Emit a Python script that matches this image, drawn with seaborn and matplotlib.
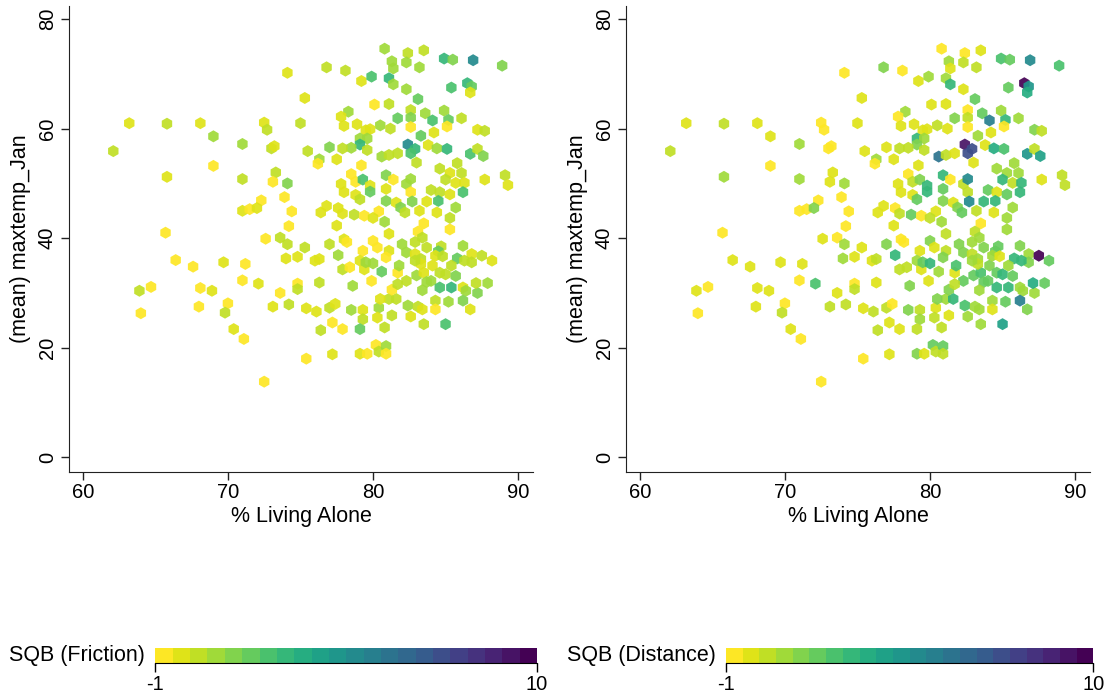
import numpy as np
import pandas as pd
import matplotlib
matplotlib.use("Agg")
import matplotlib.pyplot as plt
from matplotlib.colors import ListedColormap, BoundaryNorm
from matplotlib.cm import ScalarMappable
import seaborn as sns

# ------------------------------
# DATA
# ------------------------------
living_alone = [
    # west / low share
    74.1, 75.3, 63.2, 65.8, 68.1, 72.5, 72.7, 75.0, 69.0, 71.0,
    62.1, 73.0, 73.2, 75.5, 69.0, 65.8, 71.0, 73.3, 73.1, 74.1,
    73.9, 72.3, 71.0, 71.5, 72.0, 74.4, 74.2, 65.7,
    72.6, 73.6, 74.1, 75.3, 66.4, 67.6, 69.7, 71.2, 74.0, 74.8,
    71.0, 72.1, 74.8, 74.8, 73.6, 63.9, 64.7, 68.1, 68.9, 68.0,
    70.0, 69.8, 64.0, 73.1, 74.2, 75.4, 70.4, 71.1, 75.4, 72.5,
    # upper cluster
    80.8, 82.4, 83.5, 84.9, 85.5, 86.9, 88.9, 81.3, 82.3, 81.4,
    83.2, 76.8, 78.1, 79.2, 79.9, 81.1, 81.4, 86.5, 86.8, 86.7,
    85.4, 82.3, 83.1, 80.1, 81.1, 82.6, 78.3, 77.8, 83.6, 84.9,
    81.7, 82.6, 84.1, 85.2, 86.1, 78.0, 78.9, 80.5, 81.2, 82.6,
    85.1, 87.2, 87.7, 79.5, 79.8, 79.1, 79.6, 79.1, 78.5, 79.6,
    83.3, 84.2, 82.4, 82.9, 82.6, 83.8, 84.4, 85.1, 86.7, 87.2,
    87.6, 77.0, 77.9, 76.3, 77.5, 76.2, 79.2, 80.6, 81.1, 81.7,
    83.0, 84.6, 85.8, 89.1, 89.3, 87.7, 86.1, 85.3, 85.0, 85.7,
    86.3, 78.5, 78.8, 77.8, 79.3, 79.8, 80.9, 81.4, 82.3, 82.6,
    78.0, 78.8, 79.1, 79.8, 80.9, 82.6, 84.0, 84.6, 85.3, 86.2,
    84.5, 83.7, 85.7, 80.9, 81.6, 81.9, 82.7, 83.2, 84.4, 82.2,
    76.4, 76.8, 77.6, 77.9, 78.7, 79.4, 80.4, 80.0, 80.8, 77.5,
    83.5, 85.3,
    # lower cluster
    85.3, 81.1, 83.1, 83.4, 82.9, 77.0, 78.0, 78.2, 79.3, 80.0,
    80.3, 81.1, 82.0, 82.3, 82.9, 83.7, 84.7, 84.5, 86.2, 85.8,
    86.8, 87.5, 88.2, 86.8, 86.3, 76.0, 76.3, 76.1, 77.0, 77.4,
    76.4, 77.2, 77.9, 77.2, 78.5, 79.3, 79.3, 79.1, 77.6, 77.9,
    78.4, 78.6, 76.3, 79.1, 79.4, 79.9, 79.5, 80.0, 80.6, 80.9,
    81.7, 81.8, 82.3, 83.0, 83.5, 83.7, 84.1, 84.0, 83.4, 84.6,
    85.0, 85.7, 85.4, 84.6, 85.4, 86.2, 86.4, 87.2, 87.1, 87.9,
    86.2, 86.7, 85.2, 84.3, 84.3, 85.0, 83.5, 82.6, 82.4, 83.1,
    83.4, 81.3, 80.4, 80.3, 80.8, 81.1, 81.6, 80.5, 81.3, 81.7,
    83.3, 83.3, 82.9, 84.3, 84.8, 79.1, 79.6, 80.2, 80.4, 80.9,
    80.9,
]

maxtemp_jan = [
    70.2, 65.6, 61.0, 60.9, 61.0, 61.1, 59.8, 61.0, 58.6, 57.2,
    55.9, 56.4, 56.8, 55.9, 53.2, 51.2, 50.8, 52.0, 50.3, 50.0,
    47.5, 46.9, 45.0, 45.3, 45.5, 44.9, 42.2, 41.0,
    39.9, 40.1, 38.9, 38.3, 36.0, 34.8, 35.6, 35.3, 36.3, 36.6,
    32.3, 31.7, 31.7, 30.7, 30.0, 30.4, 31.1, 30.9, 30.4, 27.5,
    28.1, 26.4, 26.3, 27.5, 27.9, 27.2, 23.4, 21.6, 18.0, 13.8,
    74.6, 73.8, 74.3, 72.8, 72.6, 72.5, 71.5, 72.3, 72.1, 71.0,
    71.2, 71.2, 70.6, 68.7, 69.5, 69.2, 68.1, 68.3, 67.7, 66.6,
    67.5, 67.2, 65.4, 64.4, 64.5, 63.4, 63.1, 62.2, 62.8, 63.3,
    61.9, 62.0, 61.5, 61.6, 61.9, 60.5, 60.8, 60.6, 60.0, 60.3,
    60.4, 59.8, 59.6, 59.7, 59.9, 58.2, 58.2, 57.1, 56.5, 56.1,
    58.7, 59.3, 57.1, 56.3, 55.5, 57.0, 56.4, 56.3, 55.4, 56.3,
    55.0, 56.6, 56.4, 54.4, 54.4, 53.6, 53.3, 54.9, 55.2, 55.5,
    53.8, 52.7, 53.7, 51.5, 49.7, 50.7, 51.9, 51.9, 50.7, 50.1,
    50.1, 51.7, 50.3, 49.9, 50.7, 49.6, 51.5, 50.7, 49.9, 50.8,
    48.4, 47.9, 47.1, 48.5, 49.0, 48.4, 48.8, 48.4, 48.0, 48.4,
    46.8, 46.7, 45.6, 46.8, 46.5, 45.6, 46.7, 45.0, 44.7, 44.7,
    44.7, 45.9, 45.5, 44.5, 44.3, 44.1, 44.9, 43.7, 43.0, 42.3,
    42.7, 43.7,
    41.6, 40.8, 41.2, 40.1, 39.3, 38.9, 39.8, 39.3, 37.7, 39.5,
    38.3, 37.7, 38.9, 37.4, 37.1, 38.3, 38.5, 37.6, 38.6, 36.3,
    37.1, 36.8, 35.9, 35.6, 35.9, 35.9, 36.2, 26.6, 27.3, 28.0,
    23.2, 24.6, 23.4, 18.8, 26.9, 26.9, 25.2, 23.4, 36.9, 34.3,
    34.7, 31.3, 31.9, 35.9, 34.3, 32.2, 35.6, 35.4, 33.9, 36.5,
    33.7, 35.0, 32.2, 33.2, 33.7, 32.0, 35.0, 32.2, 30.5, 33.7,
    33.4, 33.1, 35.0, 31.0, 31.0, 31.0, 30.4, 30.0, 31.8, 31.8,
    28.6, 27.0, 28.4, 28.6, 27.0, 24.3, 24.3, 25.7, 27.7, 27.5,
    27.0, 25.9, 27.3, 25.5, 23.7, 28.9, 28.9, 28.9, 30.6, 31.6,
    36.2, 35.3, 35.9, 36.8, 36.7, 18.9, 18.9, 20.5, 19.3, 20.3,
    18.9,
]

sqb_friction = [
    -0.3, -0.3, -0.3, 0.2, -0.3, -0.3, 0.2, 0.2, 0.8, 0.8,
    0.2, 0.2, -0.3, 0.2, -0.8, -0.3, 0.2, 0.2, -0.8, 1.2,
    -0.8, -0.8, -0.3, -0.8, -0.3, -0.8, -0.8, -0.8,
    -0.8, 0.2, 0.2, 0.2, -0.8, -0.8, -0.3, -0.8, -0.3, -0.3,
    -0.8, -0.3, -0.8, 0.2, -0.8, 0.2, -0.8, -0.8, -0.3, -0.8,
    -0.8, 0.2, -0.8, -0.3, 0.4, -0.3, -0.3, -0.8, -0.8, -0.8,
    0.7, 0.2, 0.2, 2.7, 1.2, 4.8, 1.2, 0.8, 0.6, 0.6,
    0.8, 0.2, 0.2, -0.3, 2.2, 2.7, 0.6, 2.7, 1.7, -0.3,
    2.2, 0.8, 1.7, -0.8, 0.4, 0.2, 0.8, -0.3, 0.8, 0.7,
    1.7, 1.0, 2.2, 1.7, 0.4, -0.3, -0.3, 0.8, 0.2, -0.8,
    -0.8, -0.3, 0.0, -0.3, -0.3, 0.8, 0.8, 2.7, 0.6, 0.4,
    1.7, -0.3, 4.8, 2.7, 2.2, -0.3, 0.8, 2.7, 2.2, 0.2,
    1.0, 1.0, 0.0, 0.8, -0.1, -0.8, -0.8, 0.8, 0.2, 0.3,
    0.2, 0.4, 0.0, 0.3, -0.3, -0.3, 0.4, -0.3, 0.3, -0.3,
    -0.3, -0.8, -0.8, -0.3, 2.2, -0.3, 1.0, -0.8, 0.5, 0.8,
    -0.3, -0.3, 0.3, 1.7, -0.3, -0.8, 0.3, 0.3, -0.3, 2.3,
    2.3, -0.3, 0.8, 1.0, -0.3, 1.0, 1.0, -0.3, -0.3, 0.3,
    -0.3, -0.3, -0.3, -0.3, 0.3, -0.8, -0.8, -0.3, 0.8, -0.3,
    -0.8, 0.3,
    -0.8, -0.3, -0.8, 0.3, 0.3, 0.3, -0.3, -0.8, -0.8, -0.8,
    -0.8, -0.3, 0.8, 0.8, -0.3, 0.3, 0.3, 1.8, 0.8, 1.5,
    -0.3, 0.3, -0.3, 0.3, 0.3, -0.3, -0.3, -0.3, 0.3, -0.3,
    0.2, -0.8, -0.8, -0.3, 0.8, -0.3, 0.3, 1.5, 0.8, 0.3,
    -0.8, 0.8, 0.3, -0.3, -0.3, -0.8, 0.8, 0.8, 1.5, -0.8,
    -0.8, 0.8, 0.3, 0.8, -0.3, 0.8, -0.3, 0.8, 0.8, 0.3,
    0.3, 1.3, 0.3, 2.2, 2.6, -0.3, 0.8, 1.3, 0.3, 0.8,
    1.3, -0.3, 0.8, 0.3, -0.8, 2.2, 0.3, -0.3, 0.8, 0.3,
    -0.3, 0.3, 0.8, -0.3, 0.3, 0.3, 0.3, -0.3, -0.8, 0.3,
    0.3, -0.3, 0.3, -0.3, 0.3, -0.3, -0.8, -0.8, 0.3, 0.8,
    -0.8,
]

sqb_distance = [
    -0.8, -0.3, -0.3, 0.2, -0.3, -0.8, -0.8, -0.3, -0.3, 0.8,
    0.2, -0.8, -0.8, -0.3, -0.8, 0.8, 0.8, -0.3, -0.3, 0.8,
    -0.8, -0.8, -0.8, -0.8, 1.2, -0.8, -0.8, -0.8,
    -0.3, -0.8, 0.8, -0.3, -0.3, -0.3, -0.3, -0.3, 0.8, -0.3,
    -0.8, 2.2, -0.8, 0.2, -0.3, -0.3, -0.8, -0.3, -0.3, -0.3,
    -0.8, 0.2, -0.8, 0.2, 0.2, -0.3, -0.3, -0.8, -0.8, -0.8,
    -0.8, -0.8, -0.3, 2.2, 1.7, 4.8, 2.2, 0.8, 0.2, -0.3,
    0.2, 1.2, -0.8, -0.3, 0.8, 0.8, 2.7, 9.8, 4.2, 3.0,
    1.7, -0.3, 1.7, -0.3, -0.3, -0.8, 0.8, -0.8, 1.7, 0.8,
    1.2, 0.4, 5.0, 2.7, 0.8, -0.3, -0.3, 0.2, -0.3, -0.8,
    -0.8, 1.0, 0.4, -0.3, -0.3, 2.8, 0.8, 1.0, 0.2, 0.4,
    0.8, -0.3, 9.0, 7.0, 7.0, -0.3, 3.0, 2.2, 4.2, 0.3,
    3.5, -0.3, 0.3, 0.8, -0.3, -0.8, -0.3, 5.5, 0.2, -0.3,
    -0.3, 0.8, 0.8, 0.3, 0.3, -0.3, 0.8, 0.8, 2.7, 0.0,
    2.5, -0.8, 0.2, -0.3, 1.0, 2.5, 2.8, -0.8, 0.3, 4.5,
    -0.3, -0.3, 1.5, 2.5, 1.5, 0.3, 1.5, -0.3, 1.5, 2.5,
    2.5, 2.5, 0.5, 1.0, -0.3, 1.0, 4.5, 0.3, -0.3, 1.5,
    -0.3, -0.3, -0.8, 0.2, 1.5, -0.8, -0.3, 0.3, 0.8, -0.3,
    -0.8, 0.8,
    0.8, 0.4, 0.3, 0.8, 0.8, 1.2, -0.8, -0.8, -0.3, 1.2,
    -0.3, 0.3, 1.2, 1.0, 0.3, 1.0, 1.5, 1.8, 1.2, 2.5,
    0.5, 9.5, 1.8, 1.2, 2.5, -0.3, 0.2, 0.2, 0.3, -0.8,
    0.3, -0.3, -0.3, -0.3, 1.0, 0.3, 0.8, 0.3, 2.8, 0.3,
    0.3, 1.3, -0.3, 0.8, -0.3, -0.3, 1.5, 2.8, 0.8, 1.0,
    -0.3, 2.0, 1.5, 1.5, 2.0, 1.5, 1.3, 1.5, 0.8, 1.8,
    2.7, 1.5, 0.8, 2.8, 2.8, 0.5, 0.8, 0.5, 3.0, 1.5,
    5.0, 1.0, 1.8, 0.5, -0.3, 3.8, 0.8, 0.8, 2.0, 0.8,
    0.8, -0.3, -0.3, 0.3, 0.3, 0.8, 2.5, 1.3, 1.3, 0.3,
    0.8, 0.3, 0.8, 0.8, -0.3, 1.3, -0.3, 1.5, 0.3, 1.5,
    0.3,
]

df = pd.DataFrame({
    "living_alone": living_alone,
    "maxtemp_jan": maxtemp_jan,
    "sqb_friction": sqb_friction,
    "sqb_distance": sqb_distance,
})

# ------------------------------
# STYLE
# ------------------------------
sns.set_style("ticks")
plt.rcParams["font.family"] = ["Liberation Sans", "DejaVu Sans"]
plt.rcParams["axes.edgecolor"] = "#222222"
plt.rcParams["text.color"] = "black"
plt.rcParams["axes.labelcolor"] = "black"
plt.rcParams["xtick.color"] = "black"
plt.rcParams["ytick.color"] = "black"

# 22 discrete bins from -1 to 10, viridis reversed (end colours included)
cmap = ListedColormap(matplotlib.colormaps["viridis_r"](np.linspace(0, 1, 22)))
norm = BoundaryNorm(np.linspace(-1, 10, 23), cmap.N)

fig = plt.figure(figsize=(11.08, 6.96), dpi=100)
ax1 = fig.add_axes([0.0627, 0.3218, 0.418, 0.6696])
ax2 = fig.add_axes([0.5654, 0.3218, 0.418, 0.6696])
cax1 = fig.add_axes([0.1403, 0.0474, 0.3444, 0.0216])
cax2 = fig.add_axes([0.6552, 0.0474, 0.3317, 0.0216])

panels = [
    (ax1, cax1, "sqb_friction", "SQB (Friction)"),
    (ax2, cax2, "sqb_distance", "SQB (Distance)"),
]

for ax, cax, col, label in panels:
    sns.scatterplot(data=df, x="living_alone", y="maxtemp_jan", hue=col,
                    palette=cmap, hue_norm=norm, marker="h", s=75,
                    linewidth=0, alpha=0.92, legend=False, ax=ax)
    ax.set_xlim(59.08, 91.0)
    ax.set_ylim(-2.7, 82.4)
    ax.set_xticks([60, 70, 80, 90])
    ax.set_yticks([0, 20, 40, 60, 80])
    ax.set_xlabel("% Living Alone", fontsize=15.5, labelpad=3)
    ax.set_ylabel("(mean) maxtemp_Jan", fontsize=15.5, labelpad=5)
    ax.tick_params(labelsize=14.5, length=6, width=1, color="#222222", pad=2)
    ax.tick_params(axis="y", labelrotation=90, pad=3)
    for t in ax.get_yticklabels():
        t.set_va("center")
    sns.despine(ax=ax)

    cb = fig.colorbar(ScalarMappable(norm=norm, cmap=cmap), cax=cax,
                      orientation="horizontal", ticks=[-1, 10])
    cb.outline.set_visible(False)
    cb.minorticks_off()
    cax.spines["bottom"].set_visible(True)
    cax.spines["bottom"].set_color("black")
    cax.set_xticklabels(["-1", "10"])
    cax.tick_params(labelsize=14.5, length=6.5, width=1, color="black", pad=2)
    cax.text(-0.027, 0.5, label, transform=cax.transAxes,
             ha="right", va="center", fontsize=15.5)

plt.savefig("out.png", dpi=100)
